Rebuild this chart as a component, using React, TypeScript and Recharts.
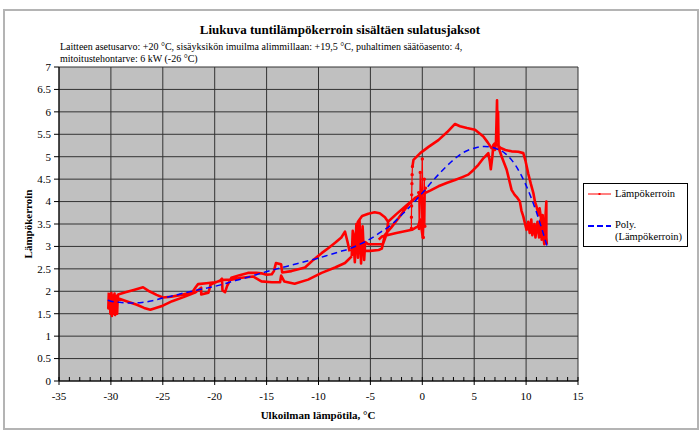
import React from 'react';
import { LineChart, Line, XAxis, YAxis, CartesianGrid } from 'recharts';

type P = [number, number];

// X axis ticks (major labelled, all integers for minor tick marks)
const xMajorTicks = [-35, -30, -25, -20, -15, -10, -5, 0, 5, 10, 15];
const xAllTicks = [
  -35, -34, -33, -32, -31, -30, -29, -28, -27, -26, -25, -24, -23, -22, -21, -20, -19, -18, -17, -16,
  -15, -14, -13, -12, -11, -10, -9, -8, -7, -6, -5, -4, -3, -2, -1, 0, 1, 2, 3, 4, 5, 6, 7, 8, 9, 10,
  11, 12, 13, 14, 15,
];
const yTicks = [0, 0.5, 1, 1.5, 2, 2.5, 3, 3.5, 4, 4.5, 5, 5.5, 6, 6.5, 7];

// Lämpökerroin (COP) trajectory segments
const segClusterUpper: P[] = [
  [-30.2, 1.97], [-30.25, 1.62], [-30.1, 1.93], [-30.05, 1.5], [-29.95, 1.96], [-29.9, 1.45],
  [-29.8, 1.9], [-29.75, 1.5], [-29.65, 1.95], [-29.6, 1.47], [-29.5, 1.86], [-29.55, 1.55],
  [-29.45, 1.9], [-29.4, 1.5], [-29.35, 1.82], [-29.3, 1.93], [-28.6, 1.98], [-27.8, 2.03],
  [-26.9, 2.09], [-26.3, 2.0], [-25.6, 1.92], [-25.0, 1.86], [-24.2, 1.88], [-23.2, 1.92],
  [-22.2, 1.97], [-21.8, 2.1], [-21.6, 2.16], [-20.8, 2.18], [-20.0, 2.2], [-19.5, 2.23],
  [-19.3, 2.28], [-19.25, 2.02], [-19.0, 1.98], [-18.8, 2.12], [-18.4, 2.3], [-17.6, 2.36],
  [-16.8, 2.41], [-16.0, 2.41], [-15.5, 2.4], [-15.0, 2.37], [-14.5, 2.38], [-14.3, 2.45],
  [-14.1, 2.63], [-13.6, 2.6], [-13.5, 2.42], [-12.6, 2.45], [-11.3, 2.53], [-10.5, 2.7],
  [-9.7, 2.85], [-9.0, 2.97], [-8.4, 3.08], [-7.8, 3.2], [-7.45, 3.33], [-7.2, 3.1], [-7.0, 2.89],
];
const segLower: P[] = [
  [-30.0, 1.7], [-29.4, 1.85], [-28.5, 1.78], [-27.5, 1.7], [-26.8, 1.63], [-26.2, 1.59],
  [-25.0, 1.68], [-24.1, 1.78], [-23.0, 1.87], [-21.9, 1.97], [-21.3, 2.08], [-21.3, 1.93],
  [-20.6, 1.97], [-20.4, 2.15], [-19.8, 2.21], [-19.4, 2.25], [-18.4, 2.26], [-17.4, 2.3],
  [-16.3, 2.33], [-15.5, 2.22], [-14.5, 2.2], [-13.7, 2.2], [-13.6, 2.35], [-13.3, 2.22],
  [-12.3, 2.17], [-11.0, 2.26], [-9.7, 2.41], [-8.4, 2.53], [-7.45, 2.63], [-6.8, 2.78],
];
const segCentre: P[] = [
  [-6.8, 2.78], [-6.7, 3.35], [-6.5, 2.65], [-6.35, 3.5], [-6.2, 2.75], [-6.05, 3.6],
  [-5.9, 2.62], [-5.75, 3.45], [-5.6, 2.7], [-5.5, 3.1], [-5.2, 3.05], [-4.5, 3.05],
  [-3.8, 3.05], [-3.4, 3.3], [-3.3, 3.55], [-3.6, 3.65], [-4.1, 3.74], [-4.6, 3.76],
  [-5.2, 3.73], [-5.8, 3.68], [-6.2, 3.55], [-6.5, 3.2], [-6.6, 3.0], [-5.9, 2.9],
  [-5.0, 2.9], [-4.2, 2.92], [-3.9, 2.95], [-3.6, 3.26], [-3.0, 3.42], [-2.3, 3.63],
  [-1.35, 3.93], [-0.7, 4.08], [-0.1, 4.15],
];
const segMiddle: P[] = [
  [-4.2, 3.15], [-3.9, 3.22], [-2.5, 3.3], [-1.0, 3.37], [-0.4, 3.45], [-0.2, 3.6], [0.05, 3.19], [0.15, 4.1],
];
const segRising: P[] = [
  [-3.3, 3.55], [-2.5, 3.72], [-1.65, 3.89], [-1.0, 4.02], [-0.5, 4.1], [0.0, 4.2],
];
const segLowerArc: P[] = [
  [-0.1, 4.15], [0.8, 4.25], [1.55, 4.34], [2.4, 4.42], [3.15, 4.48], [3.8, 4.54], [4.43, 4.6],
  [4.9, 4.7], [5.4, 4.82], [5.9, 4.97], [6.36, 5.08], [6.5, 4.9], [6.6, 4.72], [6.75, 5.0],
  [6.84, 5.26], [7.0, 5.3], [7.3, 5.25], [7.5, 5.2], [8.0, 5.15], [8.6, 5.12], [9.25, 5.11],
  [9.73, 5.08], [9.95, 4.9], [10.2, 4.63], [10.45, 4.4], [10.7, 4.19], [10.85, 4.0], [11.0, 3.89],
  [11.2, 3.7], [11.3, 3.85], [11.5, 3.52], [11.6, 3.7], [11.65, 3.3], [11.8, 3.11], [11.85, 3.6],
  [11.95, 4.0], [11.95, 3.2], [12.0, 3.04],
];
const segUpperArc: P[] = [
  [-0.95, 4.78], [-0.85, 4.93], [-0.2, 5.08], [0.6, 5.22], [1.55, 5.37], [2.4, 5.55], [3.15, 5.73],
  [3.63, 5.68], [4.3, 5.64], [5.08, 5.6], [5.88, 5.45], [6.3, 5.32], [6.68, 5.19], [7.0, 5.15],
  [7.1, 5.35], [7.2, 6.26], [7.25, 5.5], [7.3, 6.0], [7.35, 5.2], [7.65, 5.0], [7.9, 4.85],
  [8.13, 4.71], [8.35, 4.5], [8.6, 4.26], [8.9, 4.15], [9.1, 4.1], [9.4, 4.0], [9.55, 3.8],
  [9.73, 3.67], [9.9, 3.5], [10.05, 3.37], [10.2, 3.55], [10.35, 3.3], [10.5, 3.6], [10.6, 3.25],
  [10.8, 3.5], [10.9, 3.2], [11.1, 3.55], [11.25, 3.2], [11.4, 3.6], [11.5, 3.15], [11.6, 3.4],
  [11.75, 3.05], [11.8, 3.35],
];
// thin dotted stretches near 0 °C
const segDotsA: P[] = [
  [-1.05, 3.4], [-1.05, 3.65], [-1.03, 3.9], [-1.02, 4.15], [-1.0, 4.4], [-0.98, 4.6], [-0.95, 4.78],
];
const segDotsB: P[] = [
  [-0.35, 4.2], [-0.3, 3.4], [-0.2, 4.65], [-0.1, 3.55], [0.0, 4.95], [0.1, 3.2], [0.2, 4.5], [0.25, 3.45], [0.3, 4.3],
];

// Poly. (Lämpökerroin) trendline
const trendX = [
  -30.3, -30, -29, -28, -27, -26, -25, -24, -23, -22, -21, -20, -19, -18, -17, -16, -15, -14, -13,
  -12, -11, -10, -9, -8, -7, -6, -5, -4, -3, -2, -1, 0, 1, 2, 3, 4, 5, 6, 7, 8, 9, 10, 11, 12,
];
const trendY = [
  1.8, 1.78, 1.75, 1.74, 1.75, 1.79, 1.85, 1.9, 1.96, 2.01, 2.06, 2.11, 2.17, 2.24, 2.3, 2.37, 2.44,
  2.5, 2.56, 2.62, 2.68, 2.74, 2.81, 2.88, 2.95, 3.05, 3.17, 3.32, 3.48, 3.7, 3.93, 4.19, 4.46, 4.71,
  4.93, 5.1, 5.19, 5.23, 5.19, 5.07, 4.8, 4.36, 3.76, 3.02,
];

const join = (segs: P[][]) => {
  const out: { x: number; y: number | null }[] = [];
  segs.forEach((s, i) => {
    if (i > 0) out.push({ x: s[0][0], y: null });
    s.forEach(([x, y]) => out.push({ x, y }));
  });
  return out;
};

const redData = join([segClusterUpper, segLower, segCentre, segMiddle, segRising, segLowerArc, segUpperArc]);
const redDotData = join([segDotsA, segDotsB]);
const trendData = trendX.map((x, i) => ({ x, y: trendY[i] }));

const FONT = "'Liberation Serif', 'Times New Roman', serif";
const RED = '#ff0000';
const BLUE = '#0000ff';

const XTick = (props: any) => {
  const { x, y, payload } = props;
  const v = payload.value;
  const major = xMajorTicks.includes(v);
  return (
    <g>
      <line x1={x} x2={x} y1={y - 4} y2={major ? y + 4 : y} stroke="#000" strokeWidth={1} />
      {major && (
        <text x={x} y={y + 19} textAnchor="middle" fill="#000" fontSize={11} fontFamily={FONT}>
          {v}
        </text>
      )}
    </g>
  );
};

export default function App() {
  return (
    <div style={{ position: 'absolute', left: 0, top: 0, width: 700, height: 436, background: '#fff', fontFamily: FONT }}>
      <div style={{ position: 'absolute', left: 3, top: 9, width: 692, height: 417, border: '2px solid #b4b4b4' }} />
      <div style={{ position: 'absolute', left: 0, width: 680, top: 22, textAlign: 'center', fontSize: 13, fontWeight: 'bold', lineHeight: '16px', color: '#000' }}>
        Liukuva tuntilämpökerroin sisältäen sulatusjaksot
      </div>
      <div style={{ position: 'absolute', left: 60, top: 41, fontSize: 10, lineHeight: '12px', color: '#000', whiteSpace: 'nowrap' }}>
        Laitteen asetusarvo: +20 °C, sisäyksikön imuilma alimmillaan: +19,5 °C, puhaltimen säätöasento: 4,
        <br />
        mitoitustehontarve: 6 kW (-26 °C)
      </div>
      <LineChart width={700} height={436} margin={{ top: 67, right: 122, bottom: 25, left: 29 }} style={{ position: 'absolute', left: 0, top: 0 }}>
        <CartesianGrid fill="#c0c0c0" stroke="#333" strokeDasharray="" verticalValues={xMajorTicks} />
        <XAxis
          type="number"
          dataKey="x"
          domain={[-35, 15]}
          ticks={xAllTicks}
          interval={0}
          tickLine={false}
          tickSize={0}
          tickMargin={0}
          height={30}
          stroke="#000"
          tick={<XTick />}
          allowDataOverflow
        />
        <YAxis
          type="number"
          domain={[0, 7]}
          ticks={yTicks}
          interval={0}
          width={30}
          stroke="#000"
          tickSize={5}
          tickMargin={3}
          tick={{ fill: '#000', fontSize: 11, fontFamily: FONT }}
          allowDataOverflow
        />
        <Line data={redData} dataKey="y" stroke={RED} strokeWidth={2.6} dot={false} isAnimationActive={false} connectNulls={false} strokeLinejoin="round" />
        <Line data={redDotData} dataKey="y" stroke={RED} strokeWidth={1.2} dot={{ r: 1.1, fill: RED, stroke: RED }} isAnimationActive={false} connectNulls={false} />
        <Line data={trendData} dataKey="y" type="monotone" stroke={BLUE} strokeWidth={1.5} strokeDasharray="6 4" dot={false} isAnimationActive={false} />
      </LineChart>
      <div style={{ position: 'absolute', left: 28, top: 224, transform: 'translate(-50%, -50%) rotate(-90deg)', fontSize: 11, fontWeight: 'bold', whiteSpace: 'nowrap' }}>
        Lämpökerroin
      </div>
      <div style={{ position: 'absolute', left: 318, top: 415, transform: 'translate(-50%, -50%)', fontSize: 11, fontWeight: 'bold', whiteSpace: 'nowrap' }}>
        Ulkoilman lämpötila, °C
      </div>
      <div style={{ position: 'absolute', left: 583, top: 183, width: 103, height: 62, border: '1px solid #000', background: '#fff', fontSize: 10.5 }}>
        <svg width={30} height={62} style={{ position: 'absolute', left: 0, top: 0 }}>
          <line x1={4} x2={27} y1={10} y2={10} stroke={RED} strokeWidth={1} />
          <rect x={14.5} y={9} width={2} height={2} fill={RED} />
          <line x1={4} x2={27} y1={42} y2={42} stroke={BLUE} strokeWidth={2} strokeDasharray="6 3" />
        </svg>
        <div style={{ position: 'absolute', left: 31, top: 3, lineHeight: '14px' }}>Lämpökerroin</div>
        <div style={{ position: 'absolute', left: 31, top: 35, lineHeight: '12px' }}>
          Poly.
          <br />
          (Lämpökerroin)
        </div>
      </div>
    </div>
  );
}
